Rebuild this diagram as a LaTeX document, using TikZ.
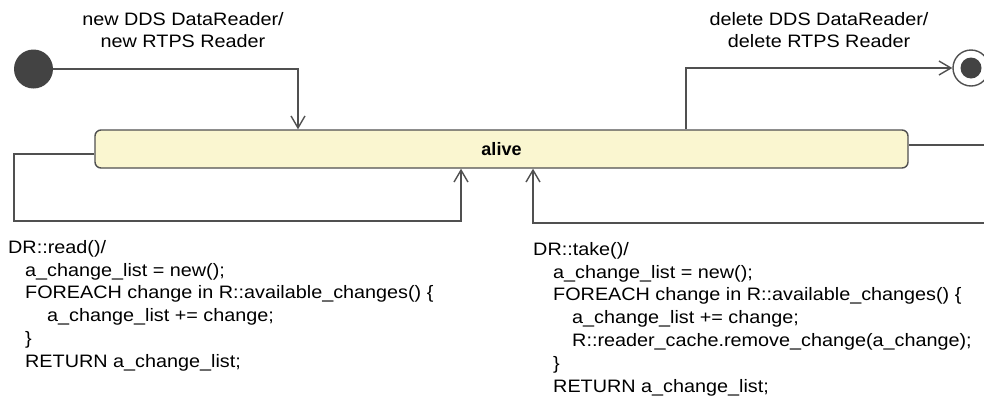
\documentclass[tikz,border=0pt]{standalone}
\usepackage{fontspec}
\setmainfont{Liberation Sans}
\newfontfamily\widefont{Liberation Sans}[FakeStretch=1.1]
\usetikzlibrary{arrows.meta}
\definecolor{ln}{HTML}{505050}
\definecolor{dot}{HTML}{434343}
\definecolor{boxfill}{HTML}{FAF6D0}
\begin{document}
\begin{tikzpicture}[x=1pt,y=-1pt,
  conn/.style={draw=ln,line width=1.4pt,-{Straight Barb[length=12pt,width=14pt,line width=1.4pt]}},
  lbl/.style={font=\widefont\fontsize{18}{22}\selectfont,align=center,inner sep=0pt},
  code/.style={font=\widefont\fontsize{18}{22.8}\selectfont,align=left,inner sep=0pt,anchor=north west},
  statebox/.style={draw=ln,line width=1.4pt,fill=boxfill,rounded corners=6pt,minimum width=813pt,minimum height=38pt,inner sep=0pt,font=\fontsize{18}{20}\selectfont\bfseries}]
\useasboundingbox (0,0) rectangle (984,400);
\node[circle,fill=dot,minimum size=39pt,inner sep=0pt] (init) at (33.5,69) {};
\node[circle,draw=ln,line width=1.4pt,fill=white,minimum size=36pt,inner sep=0pt] (fin) at (971,68) {};
\node[circle,fill=dot,minimum size=21pt,inner sep=0pt] (finin) at (971,68) {};
\node[statebox] (alive) at (501.5,149) {alive};
\coordinate (a1) at (298,69);
\coordinate (a2) at (686,68);
\coordinate (l1) at (14,154);
\coordinate (l2) at (14,221);
\coordinate (l3) at (461,221);
\coordinate (r1) at (995,145);
\coordinate (r2) at (995,223);
\coordinate (r3) at (533,223);
\draw[conn] (init.east) -- (a1) -- (a1 |- alive.north);
\draw[conn] (a2 |- alive.north) -- (a2) -- (fin.west);
\draw[conn] (alive.west |- l1) -- (l1) -- (l2) -- (l3) -- (l3 |- alive.south);
\draw[conn] (alive.east |- r1) -- (r1) -- (r2) -- (r3) -- (r3 |- alive.south);
\node[lbl] (t1) at (183,30.5) {new DDS DataReader/\\new RTPS Reader};
\node[lbl] (t2) at (819,30.5) {delete DDS DataReader/\\delete RTPS Reader};
\node[code] (c1) at (8,240) {DR::read()/\\
\hspace*{17pt}a\_change\_list = new();\\
\hspace*{17pt}FOREACH change in R::available\_changes() \{\\
\hspace*{39pt}a\_change\_list += change;\\
\hspace*{17pt}\}\\
\hspace*{17pt}RETURN a\_change\_list;};
\node[code] (c2) at (533,242) {DR::take()/\\
\hspace*{20pt}a\_change\_list = new();\\
\hspace*{20pt}FOREACH change in R::available\_changes() \{\\
\hspace*{39pt}a\_change\_list += change;\\
\hspace*{39pt}R::reader\_cache.remove\_change(a\_change);\\
\hspace*{20pt}\}\\
\hspace*{20pt}RETURN a\_change\_list;};
\end{tikzpicture}
\end{document}
